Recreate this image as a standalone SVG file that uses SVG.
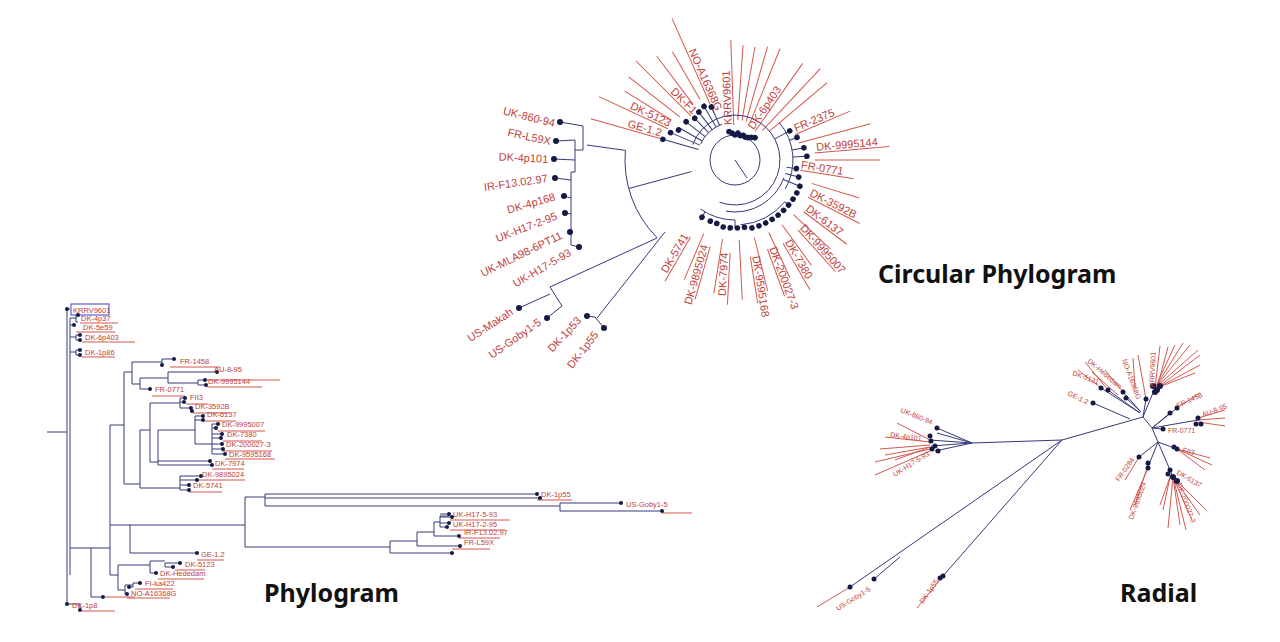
<svg xmlns="http://www.w3.org/2000/svg" width="1280" height="642" viewBox="0 0 1280 642">
<style>
.br{fill:none;stroke:#353a78;stroke-width:1}
.rl{stroke:#d4574e;stroke-width:1}
.d{fill:#151a45}
.t{font-family:"Liberation Sans",Arial,sans-serif;fill:#c0413a}
.p{font-size:7.5px}
.c{font-size:11px}
.r{font-size:7px}
.title{font-family:"Noto Sans","DejaVu Sans",sans-serif;font-weight:bold;fill:#111;font-size:25px}
</style>
<rect width="1280" height="642" fill="#fff"/>

<!-- ===== Phylogram ===== -->
<g id="phylogram">
<g id="phylo-connectors">
<path class="br" d="M47,432H67 M67,309V604 M70,318V575 M67,604H70
M67,309H70 M70,318H76 M76,315V322 M76,315H78 M76,322H78 M70,325H74 M70,337H76 M76,335V340 M76,335H80 M76,340H80 M70,352H76 M76,350V355 M76,350H80 M76,355H80
M70,548H91 M91,548V597 M91,597H103 M91,548H110 M110,425V575
M110,425H124 M124,372V484
M124,372H132 M132,362V384 M132,362H162 M162,359V365 M162,359H174
M132,384H140 M140,378V389 M140,389H150 M140,378H168 M168,372V383 M168,372H217 M168,383H198 M198,380V385 M198,380H205 M198,385H206
M124,484H140 M140,430V488 M140,430H150 M150,403V462 M150,403H180 M180,398V408 M180,398H185 M180,402H184 M180,408H191 M191,408V411 M191,411H192
M150,462H158 M158,430V465 M158,430H195 M195,416V444 M195,416H203 M195,420H203 M195,444H212 M212,424V454 M212,424H218 M212,434H222 M212,444H222 M212,454H225 M212,428H216 M212,438H221 M212,449H223
M158,465H212 M158,461H210
M140,488H180 M180,476V490 M180,476H201 M180,480H197 M180,485H189 M180,490H189
M110,525H130 M130,525V553 M130,553H197
M130,525H245 M245,497V547 M245,497H265 M265,494V506 M265,494H537 M265,498H540 M265,506H560 M560,503V511 M560,503H621 M560,511H662
M245,547H390 M390,541V553 M390,553H452 M390,541H417 M417,532V546 M417,546H460 M417,532H434 M434,522V536 M434,536H459 M434,522H440 M440,516V527 M440,516H449 M440,514H449 M440,517H452 M440,523H449 M440,527H447
M110,575H118 M118,565V590 M118,565H150 M150,561V573 M150,561H165 M165,563V567 M165,563H180 M165,567H173 M150,573H156
M118,590H125 M125,585V594 M125,585H133 M133,583V587 M133,583H140 M133,587H129 M125,594H127
M70,604H80 M80,604V610"/>
</g>
<g id="phylo-underlines" class="rl">
<path class="rl" d="M80,323H118 M76,332H115 M82,342H135 M82,357H115 M170,367H220 M205,380H280 M207,387H262 M152,396H185 M186,404H208 M193,413H230 M205,421H236 M218,431H265 M223,441H262 M222,451H272 M225,459H275 M212,469H244 M197,480H245 M189,492H222 M537,500H572 M662,513H692 M450,520H510 M450,530H505 M459,538H500 M452,549H490 M197,560H224 M175,570H205 M158,579H204 M135,589H173 M127,598H170 M105,597H135 M82,611H115"/>
</g>
<rect x="71" y="304" width="38" height="11" fill="none" stroke="#5a5de0" stroke-width="1.2"/>
<g id="phylo-dots" class="d">
<circle cx="67" cy="309" r="2"/><circle cx="78" cy="315" r="2"/><circle cx="74" cy="325" r="2"/><circle cx="80" cy="335" r="2"/><circle cx="80" cy="340" r="2"/><circle cx="80" cy="350" r="2"/><circle cx="80" cy="355" r="2"/>
<circle cx="174" cy="359" r="2"/><circle cx="162" cy="365" r="2"/><circle cx="217" cy="372" r="2"/><circle cx="205" cy="380" r="2"/><circle cx="206" cy="385" r="2"/><circle cx="150" cy="389" r="2"/>
<circle cx="185" cy="398" r="2"/><circle cx="184" cy="402" r="2"/><circle cx="191" cy="408" r="2"/><circle cx="192" cy="411" r="2"/><circle cx="203" cy="416" r="2"/><circle cx="203" cy="420" r="2"/>
<circle cx="218" cy="424" r="2"/><circle cx="216" cy="428" r="2"/><circle cx="222" cy="434" r="2"/><circle cx="221" cy="438" r="2"/><circle cx="222" cy="444" r="2"/><circle cx="223" cy="449" r="2"/><circle cx="225" cy="454" r="2"/>
<circle cx="212" cy="465" r="2"/><circle cx="210" cy="461" r="2"/><circle cx="201" cy="476" r="2"/><circle cx="197" cy="480" r="2"/><circle cx="189" cy="485" r="2"/><circle cx="189" cy="490" r="2"/>
<circle cx="537" cy="494" r="2"/><circle cx="540" cy="498" r="2"/><circle cx="621" cy="503" r="2"/><circle cx="662" cy="511" r="2"/>
<circle cx="449" cy="514" r="2"/><circle cx="452" cy="517" r="2"/><circle cx="449" cy="523" r="2"/><circle cx="447" cy="527" r="2"/><circle cx="459" cy="536" r="2"/><circle cx="460" cy="546" r="2"/><circle cx="452" cy="553" r="2"/>
<circle cx="197" cy="553" r="2"/><circle cx="180" cy="563" r="2"/><circle cx="173" cy="567" r="2"/><circle cx="156" cy="573" r="2"/><circle cx="140" cy="583" r="2"/><circle cx="129" cy="587" r="2"/><circle cx="127" cy="594" r="2"/><circle cx="103" cy="597" r="2"/>
<circle cx="67" cy="604" r="2"/><circle cx="80" cy="610" r="2"/>
</g>
<g id="phylo-labels" class="t p">
<text x="73" y="313">KRRV9601</text><text x="81" y="321">DK-4p37</text><text x="83" y="330">DK-5e59</text><text x="85" y="340">DK-6p403</text><text x="85" y="355">DK-1p86</text>
<text x="180" y="364">FR-1458</text><text x="214" y="372">AU-8-95</text><text x="208" y="384">DK-9995144</text><text x="155" y="392">FR-0771</text>
<text x="190" y="400">FII3</text><text x="195" y="409">DK-3592B</text><text x="207" y="417">DK-6137</text><text x="222" y="427">DK-9995007</text><text x="227" y="437">DK-7380</text><text x="226" y="447">DK-200027-3</text><text x="229" y="457">DK-9595168</text><text x="215" y="466">DK-7974</text><text x="202" y="477">DK-9895024</text><text x="193" y="488">DK-5741</text>
<text x="541" y="497">DK-1p55</text><text x="626" y="507">US-Goby1-5</text><text x="453" y="517">UK-H17-5-93</text><text x="453" y="527">UK-H17-2-95</text><text x="464" y="535">IR-F13.02.97</text><text x="464" y="545">FR-L59X</text>
<text x="201" y="557">GE-1.2</text><text x="185" y="567">DK-5123</text><text x="160" y="576">DK-Hededam</text><text x="145" y="586">FI-ka422</text><text x="131" y="596">NO-A16368G</text><text x="72" y="608">DK-1p8</text>
</g>
<text class="title" x="264" y="602">Phylogram</text>
</g>

<!-- ===== Circular phylogram ===== -->
<g id="circular">
<g transform="translate(735,160)">
<g class="rl">
<line x1="78" x2="150" transform="rotate(196)"/><line x1="74" x2="150" transform="rotate(205)"/><line x1="62" x2="140" transform="rotate(225)"/><line x1="52" x2="155" transform="rotate(246)"/>
<line x1="75" x2="130" transform="rotate(212)"/><line x1="70" x2="135" transform="rotate(218)"/><line x1="70" x2="130" transform="rotate(233)"/><line x1="70" x2="125" transform="rotate(240)"/>
<line x1="35" x2="120" transform="rotate(-92)"/><line x1="40" x2="115" transform="rotate(-86)"/><line x1="40" x2="115" transform="rotate(-80)"/><line x1="40" x2="118" transform="rotate(-74)"/><line x1="40" x2="120" transform="rotate(-68)"/><line x1="35" x2="118" transform="rotate(-55)"/><line x1="40" x2="125" transform="rotate(-47)"/><line x1="45" x2="120" transform="rotate(-40)"/>
<line x1="66" x2="125" transform="rotate(-23)"/><line x1="66" x2="140" transform="rotate(-15)"/><line x1="80" x2="155" transform="rotate(-5)"/><line x1="80" x2="145" transform="rotate(0)"/><line x1="66" x2="120" transform="rotate(9)"/><line x1="80" x2="130" transform="rotate(17)"/>
<line x1="82" x2="140" transform="rotate(27)"/><line x1="86" x2="140" transform="rotate(37)"/><line x1="94" x2="150" transform="rotate(48)"/><line x1="96" x2="150" transform="rotate(60)"/><line x1="95" x2="145" transform="rotate(70)"/><line x1="98" x2="145" transform="rotate(81)"/><line x1="93" x2="145" transform="rotate(93)"/><line x1="90" x2="145" transform="rotate(106)"/><line x1="89" x2="140" transform="rotate(120)"/>
<line x1="80" x2="130" transform="rotate(43)"/><line x1="80" x2="130" transform="rotate(54)"/><line x1="80" x2="130" transform="rotate(65)"/><line x1="80" x2="135" transform="rotate(76)"/><line x1="80" x2="140" transform="rotate(87)"/><line x1="80" x2="135" transform="rotate(99)"/><line x1="80" x2="130" transform="rotate(113)"/>
</g>
<g class="br">
<circle r="25"/><line x1="0" y1="0" x2="12" y2="18"/>
<path d="M-42.3,-15.4A45,45 0 1 1 -15.4,42.3 M48.9,17.8A52,52 0 0 1 -9,51.2 M44.4,-37.3A58,58 0 0 1 50.2,29 M-34.4,-16.1A38,38 0 0 1 -13,-35.7 M0,60A60,60 0 0 1 -34.4,49.1 M49.8,41.8A65,65 0 0 1 5.7,64.8 M-109.6,-9.6A110,110 0 0 0 -77.8,77.8 M-106.3,28.5L-43.5,11.6"/>
<line x1="38" x2="75" transform="rotate(196)"/><line x1="38" x2="70" transform="rotate(203)"/><line x1="38" x2="65" transform="rotate(210)"/><line x1="38" x2="62" transform="rotate(218)"/><line x1="38" x2="58" transform="rotate(226)"/><line x1="38" x2="60" transform="rotate(233)"/><line x1="38" x2="62" transform="rotate(240)"/><line x1="38" x2="58" transform="rotate(246)"/>
<line x1="45" x2="62" transform="rotate(-28)"/><line x1="58" x2="66" transform="rotate(-20)"/><line x1="58" x2="70" transform="rotate(-10)"/><line x1="58" x2="72" transform="rotate(-3)"/><line x1="52" x2="62" transform="rotate(8)"/><line x1="52" x2="66" transform="rotate(15)"/>
<line x1="52" x2="70" transform="rotate(22)"/><line x1="65" x2="70" transform="rotate(40)"/><line x1="60" x2="68" transform="rotate(90)"/><line x1="60" x2="70" transform="rotate(120)"/>
</g>
<g class="d">
<circle r="2.8" transform="rotate(196) translate(75,0)"/><circle r="2.8" transform="rotate(203) translate(70,0)"/><circle r="2.8" transform="rotate(208) translate(64,0)"/><circle r="2.8" transform="rotate(218) translate(62,0)"/><circle r="2.8" transform="rotate(226) translate(58,0)"/><circle r="2.8" transform="rotate(233) translate(60,0)"/><circle r="2.8" transform="rotate(240) translate(62,0)"/><circle r="2.8" transform="rotate(246) translate(58,0)"/>
<circle r="2.8" transform="rotate(-96) translate(27,0)"/><circle r="2.8" transform="rotate(-90) translate(25,0)"/><circle r="2.8" transform="rotate(-84) translate(27,0)"/><circle r="2.8" transform="rotate(-78) translate(25,0)"/><circle r="2.8" transform="rotate(-72) translate(26,0)"/><circle r="2.8" transform="rotate(-66) translate(25,0)"/><circle r="2.8" transform="rotate(-60) translate(26,0)"/><circle r="2.8" transform="rotate(-54) translate(28,0)"/><circle r="2.8" transform="rotate(-48) translate(30,0)"/><circle r="2.8" transform="rotate(-102) translate(29,0)"/>
<circle r="2.8" transform="rotate(-28) translate(62,0)"/><circle r="2.8" transform="rotate(-20) translate(66,0)"/><circle r="2.8" transform="rotate(-10) translate(70,0)"/><circle r="2.8" transform="rotate(-3) translate(72,0)"/><circle r="2.8" transform="rotate(8) translate(62,0)"/><circle r="2.8" transform="rotate(15) translate(66,0)"/>
<circle r="2.8" transform="rotate(22) translate(70,0)"/><circle r="2.8" transform="rotate(28) translate(70,0)"/><circle r="2.8" transform="rotate(34) translate(70,0)"/><circle r="2.8" transform="rotate(40) translate(70,0)"/><circle r="2.8" transform="rotate(46) translate(70,0)"/><circle r="2.8" transform="rotate(52) translate(70,0)"/><circle r="2.8" transform="rotate(58) translate(70,0)"/><circle r="2.8" transform="rotate(64) translate(70,0)"/><circle r="2.8" transform="rotate(70) translate(70,0)"/><circle r="2.8" transform="rotate(76) translate(70,0)"/><circle r="2.8" transform="rotate(82) translate(68,0)"/><circle r="2.8" transform="rotate(88) translate(68,0)"/><circle r="2.8" transform="rotate(94) translate(68,0)"/><circle r="2.8" transform="rotate(100) translate(68,0)"/><circle r="2.8" transform="rotate(106) translate(66,0)"/><circle r="2.8" transform="rotate(112) translate(66,0)"/><circle r="2.8" transform="rotate(120) translate(66,0)"/>
</g>
<g class="t c">
<text x="-78" y="-2" text-anchor="end" transform="rotate(16)">GE-1.2</text>
<text x="-74" y="-2" text-anchor="end" transform="rotate(25)">DK-5123</text>
<text x="-62" y="-2" text-anchor="end" transform="rotate(45)">DK-F1</text>
<text x="-52" y="-2" text-anchor="end" transform="rotate(66)">NO-A16368G</text>
<text x="35" y="-2" transform="rotate(-92)">KRRV9601</text>
<text x="35" y="-2" transform="rotate(-55)">DK-6p403</text>
<text x="67" y="-2" transform="rotate(-23)">FR-2375</text>
<text x="82" y="-2" transform="rotate(-5)">DK-9995144</text>
<text x="66" y="-2" transform="rotate(9)">FR-0771</text>
<text x="82" y="-2" transform="rotate(27)">DK-3592B</text>
<text x="86" y="-2" transform="rotate(37)">DK-6137</text>
<text x="94" y="-2" transform="rotate(48)">DK-9995007</text>
<text x="96" y="-2" transform="rotate(60)">DK-7380</text>
<text x="95" y="-2" transform="rotate(70)">DK-200027-3</text>
<text x="98" y="-2" transform="rotate(81)">DK-9595168</text>
<text x="-93" y="-2" text-anchor="end" transform="rotate(-87)">DK-7974</text>
<text x="-90" y="-2" text-anchor="end" transform="rotate(-74)">DK-9895024</text>
<text x="-89" y="-2" text-anchor="end" transform="rotate(-60)">DK-5741</text>
</g>
</g>
<path class="br" d="M625.4,150.4L587,145 M560,122L583,126V150 M556,141L575,140V172 M554,159L575,160 M575,150H583 M571,172H575 M571,172V245L579,247 M555,178L571,180 M564,196L571,198 M565,213L571,214 M570,232L571,232 M657,238L550,287L562,306 M519,308L550,294 M547,318L562,306 M665,232L597,318 M587,316L595,317L604,328"/>
<g class="d">
<circle cx="560" cy="122" r="3"/><circle cx="556" cy="141" r="3"/><circle cx="554" cy="159" r="3"/><circle cx="555" cy="178" r="3"/><circle cx="564" cy="196" r="3"/><circle cx="565" cy="213" r="3"/><circle cx="570" cy="232" r="3"/><circle cx="579" cy="247" r="3"/>
<circle cx="519" cy="308" r="3"/><circle cx="547" cy="318" r="3"/><circle cx="587" cy="316" r="3"/><circle cx="604" cy="328" r="3"/>
</g>
<g class="t c" text-anchor="end">
<text transform="translate(554,127) rotate(14)">UK-860-94</text>
<text transform="translate(550,145) rotate(12)">FR-L59X</text>
<text transform="translate(548,163) rotate(3)">DK-4p101</text>
<text transform="translate(548,182) rotate(-8)">IR-F13.02.97</text>
<text transform="translate(556,200) rotate(-16)">DK-4p168</text>
<text transform="translate(558,219) rotate(-21)">UK-H17-2-95</text>
<text transform="translate(563,238) rotate(-26)">UK-MLA98-6PT11</text>
<text transform="translate(572,255) rotate(-30)">UK-H17-5-93</text>
<text transform="translate(514,314) rotate(-33)">US-Makah</text>
<text transform="translate(542,324) rotate(-35)">US-Goby1-5</text>
<text transform="translate(582,321) rotate(-47)">DK-1p53</text>
<text transform="translate(599,335) rotate(-52)">DK-1p55</text>
</g>
<text class="title" x="878" y="283">Circular Phylogram</text>
</g>

<!-- ===== Radial ===== -->
<g id="radial">
<g class="rl">
<path class="rl" d="M930,440L897,423 M930,442L885,437 M930,445L880,449 M930,447L885,455 M930,449L875,462 M930,447L895,460 M930,451L875,475
M850,587L817,607 M943,576L917,608
M1155,388L1190,345 M1155,388L1198,350 M1155,388L1183,343 M1155,388L1175,345 M1157,388L1168,347 M1155,388L1160,346 M1157,388L1200,365 M1157,388L1195,373 M1157,388L1200,355
M1123,392L1105,370 M1135,388L1133,358 M1146,399L1138,355 M1108,390L1085,362 M1101,388L1078,370 M1118,395L1092,372
M1198,418L1225,410 M1198,420L1225,418 M1198,422L1225,426 M1177,408L1200,393 M1177,449L1210,458 M1177,449L1212,465 M1177,449L1205,470
M1173,477L1180,525 M1173,477L1186,530 M1173,477L1192,520 M1173,477L1200,515 M1173,477L1206,510 M1173,477L1168,528 M1170,477L1163,510 M1170,477L1160,505
M1148,465L1135,505 M1148,468L1130,510 M1139,457L1125,480"/>
</g>
<path class="br" d="M850,587L1062,440 M874,579L900,557 M943,576L1062,440 M1062,440L972,443 M1062,440L1143,417 M972,443L937,428 M972,443L930,440 M972,443L931,446 M972,443L935,451 M972,443L937,433
M1093,403L1130,419 M1101,388L1140,413 M1108,390L1140,413 M1123,392L1141,412 M1126,398L1141,412 M1146,399L1143,417 M1155,388L1143,417
M1143,417L1152,428 M1152,428L1177,408 M1152,428L1170,413 M1152,428L1198,420 M1152,428L1163,429 M1152,428L1158,442 M1158,442L1177,449 M1158,442L1139,457 M1158,442L1148,467 M1158,442L1173,477"/>
<g class="d">
<circle cx="937" cy="428" r="2.5"/><circle cx="930" cy="436" r="2.5"/><circle cx="931" cy="441" r="2.5"/><circle cx="935" cy="446" r="2.5"/><circle cx="938" cy="451" r="2.5"/><circle cx="932" cy="449" r="2.5"/>
<circle cx="850" cy="587" r="2.5"/><circle cx="874" cy="579" r="2.5"/><circle cx="943" cy="576" r="2.5"/><circle cx="940" cy="578" r="2.5"/>
<circle cx="1093" cy="403" r="2.5"/><circle cx="1101" cy="388" r="2.5"/><circle cx="1108" cy="390" r="2.5"/><circle cx="1123" cy="392" r="2.5"/><circle cx="1126" cy="398" r="2.5"/><circle cx="1146" cy="399" r="2.5"/>
<circle cx="1153" cy="386" r="3"/><circle cx="1157" cy="390" r="3"/><circle cx="1160" cy="386" r="3"/><circle cx="1155" cy="392" r="3"/>
<circle cx="1177" cy="408" r="2.5"/><circle cx="1170" cy="413" r="2.5"/><circle cx="1198" cy="418" r="2.5"/><circle cx="1196" cy="424" r="2.5"/><circle cx="1201" cy="424" r="2.5"/><circle cx="1163" cy="429" r="2.5"/>
<circle cx="1177" cy="449" r="2.5"/><circle cx="1174" cy="447" r="2.5"/><circle cx="1139" cy="457" r="2.5"/><circle cx="1148" cy="463" r="2.5"/><circle cx="1148" cy="468" r="2.5"/>
<circle cx="1170" cy="470" r="2.5"/><circle cx="1173" cy="477" r="3"/><circle cx="1177" cy="481" r="3"/><circle cx="1168" cy="474" r="2.5"/>
</g>
<g class="t r">
<text transform="translate(900,412) rotate(22)">UK-860-94</text>
<text transform="translate(890,437) rotate(7)">DK-4p101</text>
<text transform="translate(895,477) rotate(-32)">UK-H17-5-93</text>
<text transform="translate(1067,395) rotate(25)">GE-1.2</text>
<text transform="translate(1072,375) rotate(20)">DK-5131</text>
<text transform="translate(1087,362) rotate(40)">DK-Hededam</text>
<text transform="translate(1122,360) rotate(70)">NO-A16368G</text>
<text transform="translate(1154,387) rotate(-87)">KRRV9601</text>
<text transform="translate(1178,408) rotate(-25)">FR-1458</text>
<text transform="translate(1203,417) rotate(-20)">AU-8-95</text>
<text transform="translate(1168,433)">FR-0771</text>
<text transform="translate(1182,452) rotate(15)">FII3</text>
<text transform="translate(1119,482) rotate(-55)">FR-0284</text>
<text transform="translate(1133,520) rotate(-70)">DK-9895024</text>
<text transform="translate(1176,474) rotate(30)">DK-6137</text>
<text transform="translate(1177,484) rotate(70)">DK-200027-3</text>
<text transform="translate(838,611) rotate(-32)">US-Goby1-5</text>
<text transform="translate(923,604) rotate(-55)">DK-1p55</text>
</g>
<text class="title" x="1120" y="602">Radial</text>
</g>
</svg>
